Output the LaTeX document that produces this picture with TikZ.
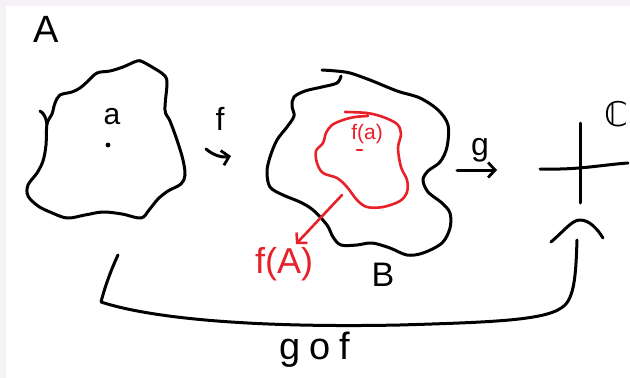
\documentclass[tikz,border=0pt]{standalone}
\usepackage{fontspec}
\setmainfont{Liberation Sans}
\newfontfamily\dejavu{DejaVu Sans}
\usetikzlibrary{arrows.meta}
\definecolor{band}{HTML}{F6F0F7}
\definecolor{penred}{HTML}{E8202A}
\tikzset{
  ink/.style={line width=3pt, line cap=round, line join=round, black},
  redink/.style={line width=2.6pt, line cap=round, line join=round, penred},
  barb/.style={-{Straight Barb[length=7pt,width=15pt,line width=2.8pt]}},
  lbl/.style={inner sep=0pt, text=black},
  redlbl/.style={inner sep=0pt, text=penred},
}
\begin{document}
\begin{tikzpicture}[x=1pt,y=-1pt]
\useasboundingbox (0,0) rectangle (630,378);
\fill[band] (0,0) rectangle (630,378);
\fill[white] (6,6) rectangle (630,378);

% labels
\node[lbl, font=\fontsize{38}{42}\selectfont] (labA) at (46,29) {A};
\node[lbl, font=\fontsize{30}{34}\selectfont] (laba) at (112,117) {a};
\fill (108,145) circle (2.4pt);
\node[lbl, font=\fontsize{32}{36}\selectfont] (labf) at (220,119) {f};
\node[lbl, font=\fontsize{32}{36}\selectfont] (labg) at (480,150) {g};
\node[lbl, font=\fontsize{34}{38}\selectfont] (labB) at (383,275) {B};
\node[lbl, font=\dejavu\fontsize{34}{38}\selectfont] (labC) at (616,114) {ℂ};
\node[lbl, font=\fontsize{38}{42}\selectfont] (labgof) at (315,350) {g\kern9pt o\kern9pt f};
\node[redlbl, font=\fontsize{21}{24}\selectfont] (labfa) at (367,134) {f(a)};
\node[redlbl, font=\fontsize{36}{40}\selectfont] (labfA) at (284,264) {f(A)};
\draw[redink] (357,150) -- (362,150);

% blob A
\draw[ink] plot[smooth cycle, tension=0.55] coordinates {
 (47,124) (52,114) (55,103) (60,95) (72,92) (80,88) (87,82) (97,73)
 (110,71) (123,67) (137,61) (143,62) (157,70) (165,76) (167,84) (165,110)
 (170,121) (177,140) (183,160) (185,175) (181,184) (168,191) (158,199)
 (149,210) (141,218) (122,214) (103,212) (85,215) (67,218) (50,212)
 (38,206) (28,196) (28,185) (37,173) (43,161) (46,145)};
\draw[ink] (40,111) .. controls (44,113) and (46,118) .. (47,124);

% blob B
\draw[ink] plot[smooth, tension=0.55] coordinates {
 (341,76) (337,83) (322,87) (305,91) (294,97) (292,106) (294,116) (287,127)
 (277,140) (270,157) (267,172) (270,187) (283,195) (300,202) (313,210)
 (327,225) (333,237) (341,245) (357,245) (372,243) (390,248) (407,255)
 (423,253) (442,243) (450,228) (450,213) (442,203) (428,192) (423,180)
 (428,171) (440,162) (447,147) (448,125) (438,110) (420,98) (400,92)
 (387,87) (370,80) (350,73) (336,71) (322,70)};

% red blob f(A)
\draw[redink] plot[smooth, tension=0.55] coordinates {
 (345,112) (367,113) (383,117) (397,124) (401,134) (398,148) (401,167)
 (407,180) (407,192) (400,201) (383,207) (367,207) (357,200) (347,187)
 (337,178) (323,173) (317,163) (316,151) (323,143) (326,133) (332,125)
 (343,120) (355,117) (368,116)};

% connectors
\coordinate (fS) at (206,149); \coordinate (fE) at (231,156);
\draw[ink, barb] (fS) .. controls (213,155) and (222,158) .. (fE);
\coordinate (gS) at (457,170); \coordinate (gE) at (497,170);
\draw[ink, barb] (gS) -- (gE);
\coordinate (rS) at (342,195); \coordinate (rE) at (296,244);
\draw[redink, -{Straight Barb[length=7pt,width=15pt,line width=2.5pt]}] (rS) -- (rE);

% plus sign for C
\coordinate (vT) at (580,123); \coordinate (vB) at (580,203);
\coordinate (hL) at (540,169); \coordinate (hR) at (628,163);
\draw[ink] (vT) -- (vB);
\draw[ink] (hL) .. controls (580,170) and (600,165) .. (hR);

% g o f path
\coordinate (gofS) at (118,255);
\coordinate (gofC) at (101,302);
\coordinate (gofE) at (577,240);
\draw[ink] (gofS) .. controls (110,272) and (104,290) .. (gofC)
  .. controls (150,318) and (250,328) .. (400,325)
  .. controls (500,322) and (550,320) .. (565,305)
  .. controls (575,295) and (576,270) .. (gofE);
\coordinate (cL) at (551,242); \coordinate (cR) at (603,238);
\draw[ink] (cL) .. controls (565,230) and (572,220) .. (580,220)
  .. controls (590,220) and (598,230) .. (cR);
\end{tikzpicture}
\end{document}
